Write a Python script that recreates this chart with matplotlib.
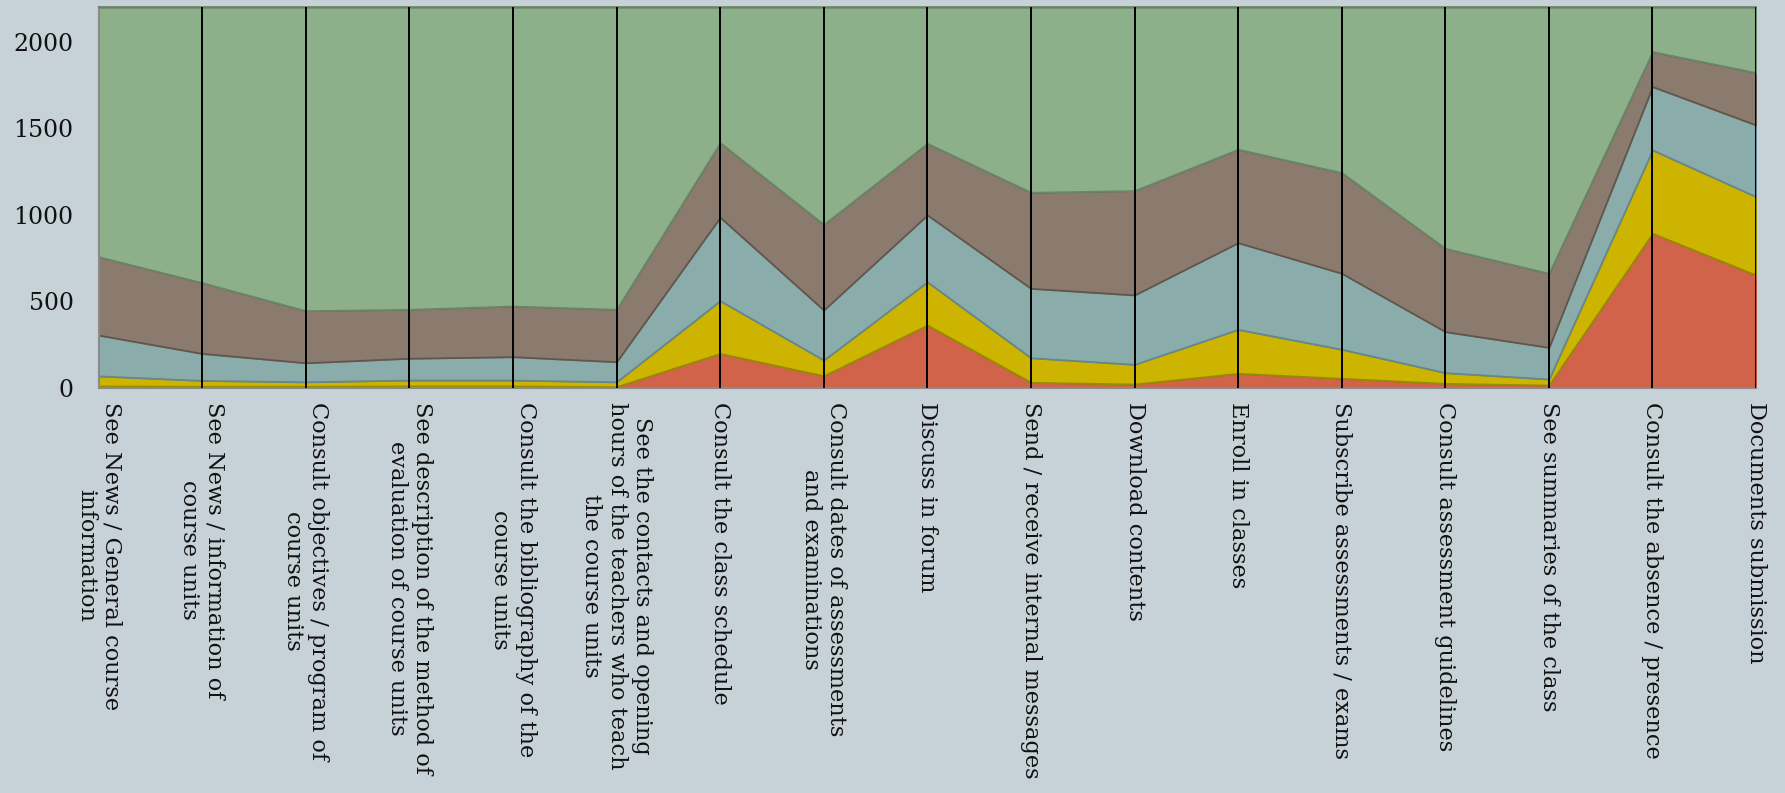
import matplotlib
matplotlib.use("Agg")
import matplotlib.pyplot as plt
import numpy as np

categories = [
    "See News / General course\ninformation",
    "See News / information of\ncourse units",
    "Consult objectives / program of\ncourse units",
    "See description of the method of\nevaluation of course units",
    "Consult the bibliography of the\ncourse units",
    "See the contacts and opening\nhours of the teachers who teach\nthe course units",
    "Consult the class schedule",
    "Consult dates of assessments\nand examinations",
    "Discuss in forum",
    "Send / receive internal messages",
    "Download contents",
    "Enroll in classes",
    "Subscribe assessments / exams",
    "Consult assessment guidelines",
    "See summaries of the class",
    "Consult the absence / presence",
    "Documents submission",
]

red    = [12, 10, 10, 12, 12, 8, 200, 71, 364, 33, 23, 85, 56, 27, 17, 894, 653]
yellow = [58, 34, 26, 34, 34, 28, 305, 91, 250, 142, 114, 254, 168, 62, 35, 482, 453]
teal   = [236, 156, 110, 126, 135, 116, 482, 289, 386, 401, 401, 501, 439, 237, 183, 366, 414]
brown  = [453, 409, 301, 283, 293, 303, 431, 495, 414, 555, 603, 540, 582, 481, 428, 202, 303]
green  = [1441, 1591, 1753, 1745, 1726, 1745, 782, 1254, 786, 1069, 1059, 820, 955, 1393, 1537, 256, 377]

series = [red, yellow, teal, brown, green]
fills = ["#d0634a", "#cdb400", "#8aadac", "#8b7b6f", "#8daf8a"]
edges = ["#b8563e", "#968c00", "#648791", "#64554b", "#688868"]

yticks = [0, 500, 1000, 1500, 2000]

bg = "#c6d2d8"
fig = plt.figure(figsize=(17.85, 7.93), dpi=100, facecolor=bg)
ax = fig.add_axes([0.0552, 0.5107, 0.9286, 0.4801])
ax.set_facecolor(bg)

x = np.arange(len(categories))
base = np.zeros(len(categories))
for vals, fc, ec in zip(series, fills, edges):
    top = base + np.array(vals, dtype=float)
    ax.fill_between(x, base, top, facecolor=fc, edgecolor=ec, linewidth=1.3, zorder=2)
    base = top

for xi in x[1:]:
    ax.axvline(xi, color="black", linewidth=1.4, zorder=5)

ax.set_xlim(0, len(categories) - 1)
ax.set_ylim(0, 2200)
ax.set_yticks(yticks)
ax.set_yticklabels([str(v) for v in yticks])
ax.set_xticks(x)
ax.set_xticklabels(categories, rotation=270, ha="center", va="top")

for lab in ax.get_xticklabels():
    lab.set_fontfamily("DejaVu Serif")
    lab.set_fontsize(16.2)
    lab.set_color("#111111")
for lab in ax.get_yticklabels():
    lab.set_fontfamily("DejaVu Serif")
    lab.set_fontsize(17)
    lab.set_color("#111111")

ax.tick_params(axis="x", length=0, pad=10)
ax.tick_params(axis="y", length=0, pad=18)

for side in ["left", "bottom"]:
    ax.spines[side].set_color("#8a8a8a")
    ax.spines[side].set_linewidth(1.5)
ax.spines["top"].set_color("#6c7f6c")
ax.spines["top"].set_linewidth(1.2)
ax.spines["right"].set_visible(False)

fig.savefig("out.png", dpi=100, facecolor=bg)
